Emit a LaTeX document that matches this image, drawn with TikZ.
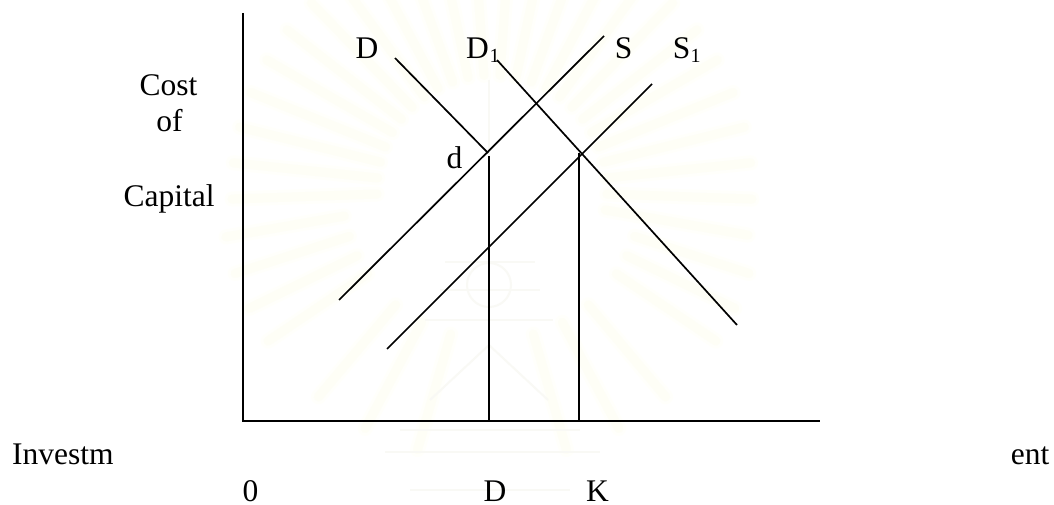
\documentclass[tikz,border=0pt]{standalone}
\usepackage{fontspec}
\setmainfont{Liberation Serif}
\definecolor{rayo}{RGB}{255,255,251}
\definecolor{rayc}{RGB}{254,254,246}
\definecolor{wmc}{RGB}{249,249,245}
\tikzset{
  x=1pt,y=-1pt,
  curve/.style={draw=black,line width=1.7pt},
  lab/.style={inner sep=0pt,font=\fontsize{31.5pt}{36pt}\selectfont,text=black},
  sublab/.style={inner sep=0pt,font=\fontsize{20pt}{22pt}\selectfont,text=black},
  rayout/.style={draw=rayo,line cap=round,line width=15pt},
  ray/.style={draw=rayc,line cap=round,line width=9pt},
  wm/.style={draw=wmc,line width=2pt,fill=none}
}
\begin{document}
\begin{tikzpicture}
\useasboundingbox (0,0) rectangle (1054,505);
\fill[white] (0,0) rectangle (1054,505);
% watermark rays
\foreach \a in {178,186,194,202,210,218,226,234,242,250,258,266,274,282,290,298,306,314,322,330,338,346,354,2,10}{
  \draw[rayout] (492,190) ++(\a:115) -- ++(\a:145);
  \draw[ray] (492,190) ++(\a:115) -- ++(\a:145);
}
\foreach \a in {18,26,34,50,62,74,106,118,130,146,154,162,170}{
  \draw[rayout] (492,190) ++(\a:150) -- ++(\a:120);
  \draw[ray] (492,190) ++(\a:150) -- ++(\a:120);
}
% watermark emblem
\draw[wm] (489,285) circle[radius=22];
\draw[wm] (425,320) -- (553,320) (440,290) -- (540,290) (445,262) -- (535,262)
  (400,430) -- (580,430) (385,452) -- (600,452) (410,490) -- (570,490);
\draw[wm] (489,80) -- (489,240);
\draw[wm] (430,400) -- (489,345) -- (548,400);
% axes
\coordinate (top) at (243,13);
\coordinate (org) at (243,421);
\coordinate (right) at (820,421);
\draw[curve] (top) -- (org) -- (right);
\coordinate (Da) at (395,58);
\coordinate (Db) at (488,153);
\coordinate (Dpa) at (497,60);
\coordinate (Dpb) at (737,325);
\coordinate (Sa) at (604,36);
\coordinate (Sb) at (339,300);
\coordinate (Spa) at (652,84);
\coordinate (Spb) at (387,349);
\coordinate (da) at (489,156);
\coordinate (db) at (489,421);
\coordinate (ka) at (579,153);
\coordinate (kb) at (579,421);
\draw[curve] (Da) -- (Db);
\draw[curve] (Dpa) -- (Dpb);
\draw[curve] (Sa) -- (Sb);
\draw[curve] (Spa) -- (Spb);
\draw[curve] (da) -- (db);
\draw[curve] (ka) -- (kb);
% labels
\node[lab,anchor=base] (lD) at (367,59) {D};
\node[lab,anchor=base] (lD1) at (477.5,59) {D};
\node[sublab,anchor=base] (lD1s) at (494.5,63) {1};
\node[lab,anchor=base] (lS) at (623.5,59) {S};
\node[lab,anchor=base] (lS1) at (681.5,59) {S};
\node[sublab,anchor=base] (lS1s) at (695.5,63) {1};
\node[lab,anchor=base] (ld) at (454.5,169) {d};
\node[lab,anchor=base] (lCost) at (168.5,96) {Cost};
\node[lab,anchor=base] (lof) at (169.5,132) {of};
\node[lab,anchor=base] (lCap) at (169,206) {Capital};
\node[lab,anchor=base west] (lInv) at (12,464) {Investm};
\node[lab,anchor=base east] (lent) at (1049.5,464) {ent};
\node[lab,anchor=base] (l0) at (250.5,501) {0};
\node[lab,anchor=base] (lDD) at (495,501) {D};
\node[lab,anchor=base] (lK) at (597.5,501) {K};
\end{tikzpicture}
\end{document}
